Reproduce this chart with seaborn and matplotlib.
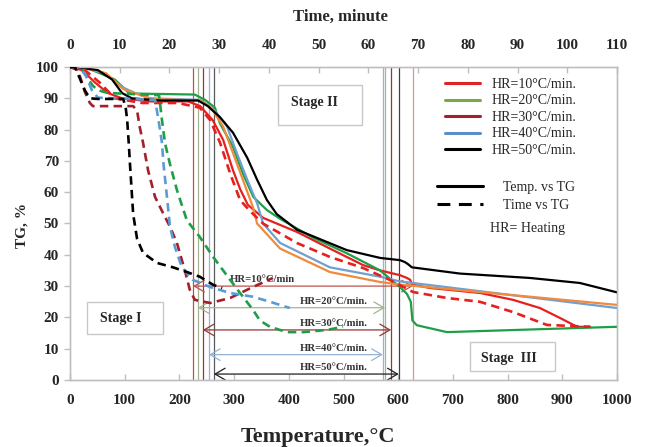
import numpy as np
import pandas as pd
import matplotlib
matplotlib.use('Agg')
import matplotlib.pyplot as plt
import seaborn as sns
from matplotlib.lines import Line2D
from matplotlib.patches import Rectangle
from matplotlib.font_manager import FontProperties

# ---------------- data: Temperature vs TG (solid) ----------------
red_T = [0, 22, 46, 69, 95, 146, 216, 238, 261, 280, 298, 311, 325, 353, 415, 475, 536, 567, 603, 616, 622, 625, 658, 750, 810, 859, 896, 927, 951]
red_TG = [100, 99, 95, 91.7, 90, 89, 89, 87.5, 83, 76.7, 67, 61, 56, 51.8, 47.3, 42, 36.7, 35, 33.5, 32.6, 32, 30.5, 29.4, 27.8, 25.6, 23, 19.8, 17, 17]

black_T = [0, 9, 51, 77, 95, 113, 165, 234, 252, 274, 298, 324, 342, 360, 378, 415, 506, 567, 603, 612, 618, 625, 713, 841, 932, 1000]
black_TG = [100, 100, 99, 96, 91.7, 90, 89.3, 89.3, 87.5, 84, 79, 71, 64, 57.5, 53, 48, 41.5, 39, 38.3, 37.7, 37, 36, 34, 32.6, 31, 28]

green_T = [0, 27, 82, 106, 124, 228, 247, 265, 274, 298, 316, 335, 360, 384, 444, 506, 567, 603, 616, 623, 626, 634, 689, 1000]
green_TG = [100, 100, 96, 92, 91.5, 91.2, 89.5, 87, 82, 74.5, 66, 58.5, 54.3, 51.5, 45.5, 40.5, 35, 29.7, 27.5, 25, 19, 17.5, 15.3, 17]

blue_T = [0, 18, 64, 95, 119, 146, 238, 260, 287, 305, 324, 342, 353, 384, 475, 567, 603, 1000]
blue_TG = [100, 100, 98, 93.6, 91.7, 90, 89.5, 87, 81, 72.5, 64, 56.5, 50, 43.8, 36, 33, 31.5, 23]

orange_T = [0, 20, 66, 97, 120, 150, 238, 258, 280, 298, 316, 335, 342, 384, 475, 567, 603, 1000]
orange_TG = [100, 100, 98, 93, 91.5, 89.8, 89.3, 87, 81, 72.5, 64, 55, 50, 42, 34.5, 31.3, 30.5, 24]

# ---------------- data: Time vs TG (dashed) ----------------
red_t = [0, 3, 6, 9, 14.5, 21.7, 26.1, 28.2, 30.2, 32.2, 34.2, 36.2, 38.8, 45.6, 52.3, 58.9, 64.3, 69, 75.8, 82.4, 89.1, 95.9, 104.6]
red_tTG = [100, 99, 95, 90, 88.5, 88.5, 87, 83, 75.7, 66, 57.5, 54, 50, 43.8, 39.3, 35.8, 32, 28.1, 26.2, 25, 21.7, 17.6, 17]

green_t = [0, 2, 4.6, 5.6, 7.6, 17.9, 18.5, 19.1, 20.1, 21.5, 23.5, 26.1, 28.8, 32.2, 34.2, 36.8, 38.2, 40.2, 43.6, 46.9, 51.7, 54.9]
green_tTG = [100, 100, 94, 92.6, 91.7, 91, 83, 75.7, 69, 60.7, 51, 45.7, 39.3, 32, 27.8, 22.4, 19, 17, 15.3, 15.3, 16, 17]

dred_t = [0, 1.6, 3, 4, 4.6, 12.7, 13.5, 14, 14.7, 15.7, 17.1, 18.5, 20.1, 21.5, 23.1, 24.1, 25.1, 28.2, 32.2, 36.5, 40.8]
dred_tTG = [100, 99, 92, 88.5, 87.5, 87.5, 86, 81, 75.7, 67, 58.5, 54, 49, 43.8, 35, 28.8, 25.6, 24.6, 26.2, 29.5, 32.6]

blue_t = [0, 1, 3, 4.4, 5.6, 17.1, 17.7, 18.1, 18.5, 18.8, 19.5, 20.1, 21.1, 22.5, 24.7, 28.2, 32.2, 36.8, 40.2, 44.2]
blue_tTG = [100, 100, 98, 92.6, 90.2, 89.5, 84, 80, 75.7, 69, 58.5, 49, 42.5, 36, 32, 29.7, 27.8, 26.6, 25, 23]

black_t = [0, 1, 3, 4, 5.6, 10.7, 11.2, 11.5, 11.8, 12.1, 12.7, 13.5, 14.7, 17.5, 20.7, 23.5, 26.1, 28.8, 30.6]
black_tTG = [100, 100, 92.5, 90, 89.8, 89.8, 87, 83, 76, 68, 53, 45, 40.6, 37.4, 36, 34.5, 33, 30.4, 29.4]

# ---------------- reference lines / arrows ----------------
start_T = [225, 234, 243, 254, 263]          # left vertical lines
end_T = [627, 576, 587, 572, 601]            # right vertical lines
arrow_TG = [30.0, 23.1, 16.0, 8.1, 1.9]
arrow_labels = ["HR=10°C/min", "HR=20°C/min.", "HR=30°C/min.", "HR=40°C/min.", "HR=50°C/min."]
legend_labels = ["HR=10°C/min.", "HR=20°C/min.", "HR=30°C/min.", "HR=40°C/min.", "HR=50°C/min."]

temp_ticks = list(range(0, 1001, 100))
time_ticks = list(range(0, 111, 10))
tg_ticks = list(range(0, 101, 10))

# ---------------- style ----------------
sns.set_theme(style='white')
plt.rcParams['font.family'] = ['Liberation Serif', 'DejaVu Serif']
plt.rcParams['axes.unicode_minus'] = False

C_RED = '#e5201f'
C_GREEN = '#1f9e48'
C_DRED = '#a31f2b'
C_BLUE = '#5b9bd5'
C_BLUE_S = '#70a0d0'
C_BLACK = '#000000'
C_ORANGE = '#f08a3c'

fig = plt.figure(figsize=(6.46, 4.47), dpi=100)
fig.patch.set_facecolor('white')
ax = fig.add_axes([70/646, 1-380/447, 547/646, 313/447])
ax2 = ax.twiny()

# vertical reference lines
vcol_start = ['#c0504d', '#a3b58f', '#943634', '#95b3d7', '#595959']
vcol_end = ['#d99694', '#a3b58f', '#943634', '#95b3d7', '#404040']
for t, c in zip(start_T, vcol_start):
    ax.axvline(t, color=c, lw=0.9, zorder=1)
for t, c in zip(end_T, vcol_end):
    ax.axvline(t, color=c, lw=0.9, zorder=1)

# arrows
acol = ['#c0504d', '#a3b58f', '#943634', '#95b3d7', '#202020']
for l, r, y, c, lab, i in zip(start_T, end_T, arrow_TG, acol, arrow_labels, range(5)):
    ax.annotate('', xy=(r, y), xytext=(l, y), xycoords='data',
                arrowprops=dict(arrowstyle='<->,head_length=0.6,head_width=0.35',
                                color=c, lw=0.9, shrinkA=0, shrinkB=0, mutation_scale=12),
                zorder=1.5)
    if i == 0:
        ax.text(292, y + 0.6, lab, ha='left', va='bottom', fontsize=7.7,
                fontweight='bold', color='#333333', zorder=2)
    else:
        ax.text(545, y + 0.6, lab, ha='right', va='bottom', fontsize=7.7,
                fontweight='bold', color='#333333', zorder=2)

# solid curves (temperature)
solid = [(red_T, red_TG, C_RED), (green_T, green_TG, C_GREEN), (blue_T, blue_TG, C_BLUE_S),
         (orange_T, orange_TG, C_ORANGE), (black_T, black_TG, C_BLACK)]
for xs, ys, c in solid:
    df = pd.DataFrame({'x': xs, 'y': ys})
    sns.lineplot(data=df, x='x', y='y', ax=ax, color=c, linewidth=1.6,
                 sort=False, estimator=None, zorder=3)

# dashed curves (time)
dashed = [(red_t, red_tTG, C_RED), (green_t, green_tTG, C_GREEN), (dred_t, dred_tTG, C_DRED),
          (blue_t, blue_tTG, C_BLUE), (black_t, black_tTG, C_BLACK)]
for xs, ys, c in dashed:
    df = pd.DataFrame({'x': xs, 'y': ys})
    sns.lineplot(data=df, x='x', y='y', ax=ax2, color=c, linewidth=1.9,
                 linestyle=(0, (3.2, 2.0)), sort=False, estimator=None, zorder=3)

# axes limits / ticks
ax.set_xlim(0, 1000)
ax2.set_xlim(0, 110)
ax.set_ylim(0, 100)

ax.set_xticks(temp_ticks)
ax.set_xticklabels([str(v) for v in temp_ticks], fontweight='bold', fontsize=11)
ax.set_yticks(tg_ticks)
ax.set_yticklabels([str(v) for v in tg_ticks], fontweight='bold', fontsize=11)
ax2.set_xticks(time_ticks)
ax2.set_xticklabels([str(v) for v in time_ticks], fontweight='bold', fontsize=11)

spine_c = '#bfbfbf'
for a in (ax, ax2):
    for s in a.spines.values():
        s.set_color(spine_c)
        s.set_linewidth(1.0)
ax.tick_params(axis='x', direction='in', length=4, width=1, color=spine_c, pad=10, bottom=True, top=False)
ax.tick_params(axis='y', direction='out', length=4, width=1, color=spine_c, pad=4, left=True, right=False)
ax2.tick_params(axis='x', direction='in', length=4, width=1, color=spine_c, pad=11, top=True, bottom=False)
ax.grid(False)
ax2.grid(False)

ax.set_xlabel('Temperature,°C', fontsize=16, fontweight='bold')
ax.xaxis.set_label_coords(0.454, -0.182)
ax.xaxis.label.set_va('center')
ax.set_ylabel('TG, %', fontsize=11, fontweight='bold')
ax.yaxis.set_label_coords(-0.088, 0.495)
ax.yaxis.label.set_va('center')
ax2.set_xlabel('Time, minute', fontsize=12, fontweight='bold')
ax2.xaxis.set_label_coords(0.494, 1.16)
ax2.xaxis.label.set_va('center')
ax2.set_ylabel('')

# stage boxes
boxes = [((0.031, 0.147), 0.139, 0.102, 'Stage I', (0.093, 0.198)),
         ((0.380, 0.815), 0.154, 0.128, 'Stage II', (0.446, 0.888)),
         ((0.731, 0.029), 0.155, 0.093, 'Stage  III', (0.803, 0.070))]
for (x0, y0), w, h, txt, (tx, ty) in boxes:
    ax.add_patch(Rectangle((x0, y0), w, h, transform=ax.transAxes, facecolor='white',
                           edgecolor='#c8c8c8', lw=1.0, zorder=4))
    ax.text(tx, ty, txt, transform=ax.transAxes, ha='center', va='center',
            fontsize=10, fontweight='bold', zorder=5)

# legends
lcols = ['#e02424', '#76a84a', '#a3202a', '#5b8ec6', '#000000']
h1 = [Line2D([], [], color=c, lw=2.2) for c in lcols]
prop = FontProperties(family='Liberation Serif', size=10)
fig.legend(h1, legend_labels, loc='upper left', bbox_to_anchor=(445/646, 1-78/447),
           frameon=False, prop=prop, handlelength=2.52, handletextpad=0.86,
           labelspacing=0.25, borderpad=0, borderaxespad=0)
h2 = [Line2D([], [], color='black', lw=2.2),
      Line2D([], [], color='black', lw=2.2, linestyle=(0, (4.2, 2.8)))]
fig.legend(h2, ['Temp. vs TG', 'Time vs TG'], loc='upper left', bbox_to_anchor=(437/646, 1-181/447),
           frameon=False, prop=prop, handlelength=3.3, handletextpad=1.44,
           labelspacing=0.35, borderpad=0, borderaxespad=0)
fig.text(490/646, 1-229/447, 'HR= Heating', fontsize=10, va='center', ha='left')

fig.savefig('out.png', dpi=100, facecolor='white')
